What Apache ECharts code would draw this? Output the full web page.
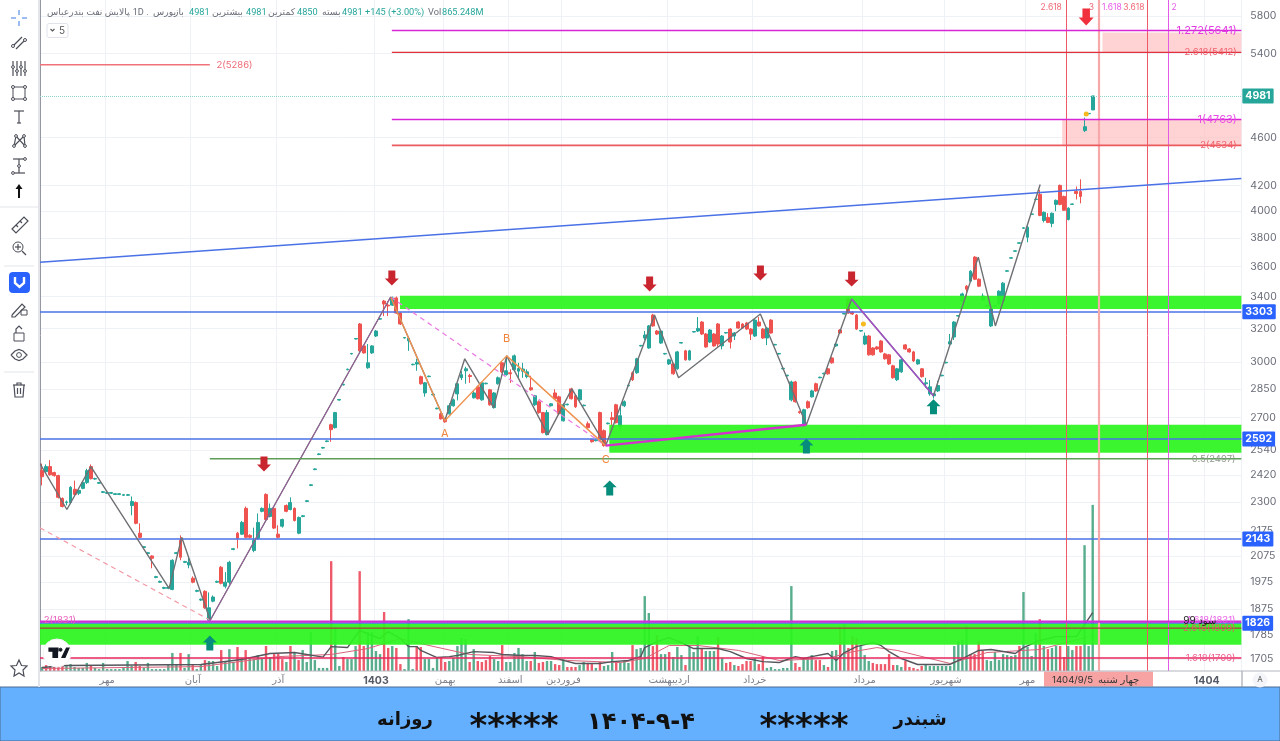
<!DOCTYPE html>
<html><head><meta charset="utf-8">
<style>html,body{margin:0;padding:0;background:#fff}#c{width:1280px;height:741px}</style>
<script src="https://cdn.jsdelivr.net/npm/echarts@6/dist/echarts.min.js"></script>
</head><body><div id="c"></div>
<script>
// ---------- data ----------
// candle rows: [open, close, low, high]; a single number is a flat limit-day dash
const candleRows = [
[2441,2413,2373,2474],[2436,2460,2430,2470],[2460,2422,2418,2490],[2432,2418,2413,2436],[2418,2320,2315,2422],[2315,2280,2276,2320],[2297,2300,2285,2306],[2297,2365,2290,2370],[2356,2333,2325,2395],[2338,2351,2330,2356],
[2360,2386,2356,2390],[2386,2441,2380,2450],[2460,2404,2400,2470],2402,2383,2342,2338,2338,2333,2333,
2329,2329,[2284,2302,2242,2324],[2297,2208,2204,2302],[2167,2150,2146,2208],2109,2085,[2075,2066,2027,2078],1992,1974,
1951,1951,[1947,2058,1944,2062],2085,[2138,2070,2058,2158],2050,[2040,2050,2027,2075],[1989,1974,1970,1996],1940,1908,
[1940,1880,1876,1944],[1836,1880,1830,1936],[1904,1919,1900,1925],1974,[2031,1970,1966,2036],[1959,1974,1951,2012],[1974,2050,1966,2056],2101,[2167,2146,2105,2172],[2163,2212,2160,2218],
[2272,2150,2146,2280],[2158,2150,2146,2163],[2097,2138,2090,2190],[2146,2212,2140,2250],[2259,2272,2255,2276],[2333,2224,2220,2338],[2237,2272,2233,2293],[2272,2188,2184,2276],[2163,2150,2146,2200],[2196,2224,2190,2228],
[2284,2259,2255,2289],[2267,2297,2263,2320],[2272,2220,2216,2276],[2167,2233,2163,2237],2237,2302,2373,2446,2517,2548,
2580,[2664,2639,2579,2669],[2649,2726,2645,2730],2792,2874,2958,3048,3136,[3227,3066,3060,3233],[3095,3054,3050,3100],
[2969,2997,2963,3106],[3054,3095,3048,3100],[3154,3184,3148,3190],3257,[3371,3352,3276,3378],[3345,3340,3276,3371],[3345,3391,3340,3400],[3391,3295,3290,3400],[3295,3227,3221,3300],3142,
[3125,3140,3066,3142],2986,[2990,3000,2952,3020],[2919,2880,2875,2925],[2830,2885,2810,2890],2919,2820,2746,[2720,2694,2690,2725],[2694,2679,2674,2699],
[2720,2762,2715,2775],[2762,2793,2757,2800],[2825,2880,2790,2885],[2913,2930,2900,2950],[2952,2963,2880,2975],[2925,2920,2885,2935],[2804,2830,2800,2840],[2863,2799,2795,2870],[2793,2885,2788,2890],2880,
[2847,2767,2762,2852],[2752,2830,2747,2835],[2880,2913,2875,2920],[2997,2946,2940,3005],[2930,2952,2925,3037],[2941,2935,2885,2960],[2958,3037,2950,3045],[2950,2965,2913,2997],[2950,2962,2913,2997],[2919,2946,2910,2960],
[2858,2847,2842,2924],[2767,2815,2760,2820],[2783,2726,2720,2790],[2726,2624,2620,2730],[2614,2726,2610,2740],[2762,2772,2758,2776],[2830,2799,2795,2850],[2809,2720,2715,2815],[2684,2767,2680,2775],2767,
[2852,2799,2795,2858],[2815,2757,2750,2820],[2793,2847,2788,2852],2762,[2669,2649,2645,2680],[2589,2579,2575,2593],2584,[2726,2589,2584,2731],[2634,2560,2555,2640],2669,
[2700,2690,2659,2730],[2767,2674,2670,2772],[2654,2710,2640,2760],[2762,2783,2755,2790],2869,[2941,2902,2895,2948],[2941,3020,2935,3026],3095,[3142,3160,3130,3184],[3083,3215,3078,3221],
[3282,3215,3210,3290],[3184,3166,3160,3190],[3112,3184,3107,3190],3048,[2991,3014,2985,3020],[2991,2935,2930,2997],[2963,3060,2958,3066],3112,[3066,3014,3010,3072],[3014,3066,3010,3072],
3178,[3184,3200,3178,3270],[3239,3166,3160,3245],[3166,3089,3084,3172],[3118,3190,3112,3196],[3166,3095,3090,3172],[3227,3106,3090,3233],[3095,3154,3075,3160],3172,[3196,3118,3080,3202],
[3154,3172,3130,3178],[3239,3202,3198,3245],[3227,3202,3198,3232],[3233,3196,3190,3240],[3196,3166,3130,3202],[3154,3251,3148,3257],[3239,3215,3210,3270],[3196,3142,3137,3202],[3142,3202,3100,3208],[3251,3172,3168,3257],
3101,3048,2963,2924,[2793,2890,2785,2897],[2890,2783,2778,2896],[2731,2726,2720,2736],[2659,2741,2654,2746],[2783,2752,2746,2790],[2809,2841,2805,2847],
[2880,2841,2836,2886],2913,2935,[2963,2935,2930,2968],[3025,2997,2992,3030],[3095,3106,3090,3112],[3190,3172,3167,3195],3289,[3384,3295,3290,3392],[3301,3289,3284,3307],
[3282,3196,3190,3288],3184,[3106,3154,3100,3175],[3154,3043,3038,3160],[3083,3043,3038,3088],[3089,3077,3072,3094],[3124,3060,3055,3130],[3048,3020,3015,3054],[3043,2991,2985,3048],[2980,2913,2908,2986],
[2902,2963,2895,2968],[2946,3014,2940,3020],[3101,3077,3072,3106],[3077,3060,3055,3083],[3060,3008,3002,3066],[2991,3014,2986,3020],[2963,2919,2914,2968],[2880,2885,2858,2913],[2825,2863,2815,2900],[2815,2825,2800,2830],
[2841,2870,2835,2896],2924,2997,[3106,3120,3106,3166],[3148,3239,3130,3245],3276,[3371,3417,3365,3425],[3468,3448,3391,3475],[3501,3568,3495,3575],[3665,3514,3508,3672],
[3514,3468,3462,3520],[3378,3403,3372,3420],3339,[3215,3320,3208,3330],3339,[3352,3435,3347,3441],[3371,3488,3340,3495],3568,3658,3706,
3763,3872,[3806,3880,3770,3888],3976,4090,[4130,3968,3962,4165],[3930,3991,3915,3998],[3953,3915,3910,3985],[3908,3984,3880,3990],[4052,4083,4000,4090],
[4201,4052,4045,4208],[4114,4007,4002,4120],[3938,4022,3930,4030],4052,[4153,4137,4090,4192],[4153,4114,4060,4250],[4663,4698,4650,4780],4815,[4850,4981,4850,4981]
];
// volume in millions; negative = red (down) bar
const volumeSigned = [
21,-31,-26,-21,-26,-26,31,36,21,16,16,42,-26,16,10,42,10,10,10,10,16,52,26,-47,-26,16,42,10,10,10,10,31,
94,31,-94,16,88,-31,10,36,-57,52,52,26,-109,47,114,47,-125,68,-109,68,62,83,68,-130,73,-88,-88,-62,
47,-130,94,-57,109,47,203,57,16,16,16,-572,229,26,-73,62,62,130,-520,-130,203,203,104,88,-307,-120,130,-120,-36,10,270,10,-130,-125,62,62,16,73,-73,-47,52,68,130,172,166,-47,114,-52,-47,
-57,-78,62,52,-135,47,47,94,120,88,52,-52,99,-42,-47,52,52,-36,-31,62,-21,-21,-21,31,47,-42,-36,16,-47,26,31,99,-47,42,52,42,-135,114,120,390,302,-130,-187,88,88,-99,73,125,83,-31,125,99,182,-120,104,104,104,-177,68,-42,-47,31,-26,-36,-52,-52,68,-36,-78,16,21,10,10,16,16,
442,-42,-21,62,68,83,-57,-57,31,-21,104,109,-229,244,-120,-182,-172,130,83,52,-42,-36,-36,-36,-88,-31,31,21,-52,-21,-16,-10,-26,31,26,26,26,26,26,26,130,156,161,234,-88,-88,-156,-104,57,52,99,57,88,83,78,83,-130,411,125,78,198,-270,130,-114,120,130,-130,-73,130,109,-130,-130,655,130,865
];
const volumeFast = [[0,18],[6,29],[39,34],[49,60],[56,91],[62,96],[69,72],[71,127],[75,122],[78,211],[81,185],[83,169],[85,205],[88,169],[90,127],[92,127],[93,107],[97,70],[100,75],[102,81],[106,101],[111,96],[113,86],[118,81],[121,81],[125,75],[128,55],[131,39],[137,39],[140,49],[144,55],[147,75],[148,122],[151,153],[154,174],[157,148],[160,117],[166,117],[169,101],[173,65],[177,49],[181,44],[183,60],[185,75],[187,65],[189,75],[193,91],[195,55],[197,96],[200,127],[204,148],[206,133],[208,101],[211,65],[215,34],[223,34],[227,75],[230,107],[233,112],[239,91],[241,122],[245,159],[249,179],[254,179],[258,304]];
const volumeSlow = [[0,13],[39,23],[58,75],[71,86],[80,117],[88,169],[95,133],[105,86],[117,75],[129,55],[142,44],[148,65],[154,133],[161,133],[171,107],[181,55],[193,65],[198,96],[205,122],[210,107],[223,39],[232,96],[245,112],[257,179]];

const axisSlots = 295;
const timeTicks = {16:'مهر',37:'آبان',58:'آذر',82:'1403',99:'بهمن',115:'اسفند',128:'فروردین',154:'اردیبهشت',175:'خرداد',202:'مرداد',222:'شهریور',242:'مهر',286:'1404'};
const priceTicks = [5800,5400,4600,4200,4000,3800,3600,3400,3200,3000,2850,2700,2540,2420,2300,2175,2075,1975,1875,1785,1705];

// drawn overlays, as [bar position, price]
const zigzag = [[0,2474],[6.6,2267],[12.5,2460],[31.7,1951],[34.8,2150],[41.8,1836],[86.1,3397],[99.4,2684],[104.3,3020],[111.4,2752],[114.6,3037],[124.7,2614],[130.6,2852],[138.9,2560],[150.9,3282],[156.8,2913],[176.9,3289],[188.2,2664],[199.3,3384],[219.4,2815],[230.4,3665],[234.6,3215],[245.6,4209]];
const abcWave = [[86.1,3397],[99.4,2684],[114.6,3037],[138.9,2560]];
const purpleLegA = [[41.8,1836],[86.1,3397]];
const purpleLegB = [[199.3,3384],[219.4,2815]];
const magentaBase = [[138.9,2560],[188.2,2664]];
const dashSalmon = [[0,2189],[41.8,1836]];
const dashMagenta = [[86.1,3397],[138.9,2560]];
const channelTop = [[0,3630],[295,4257]];
const levels = [
 {from:86.4,to:295,price:5641,color:'#d626d6',width:1.4},
 {from:86.4,to:295,price:5412,color:'#e0313c',width:1.2},
 {from:0,to:41.7,price:5286,color:'#f0727a',width:1.6},
 {from:86.4,to:295,price:4763,color:'#d626d6',width:1.4},
 {from:86.4,to:295,price:4534,color:'#ec5a60',width:1.6},
 {from:41.7,to:295,price:2497,color:'#5f9e58',width:1.6},
 {from:0,to:295,price:1831,color:'#cf2fd9',width:2.2},
 {from:0,to:295,price:1809,color:'#a8403a',width:1.3},
 {from:0,to:295,price:1709,color:'#e8265e',width:1.4}
];
const priceTags = [{price:4981,color:'#26a69a',line:'#8fd4cc',type:'dotted'},{price:3303,color:'#2962ff',line:'#4a72e6'},{price:2592,color:'#2962ff',line:'#4a72e6'},{price:2143,color:'#2962ff',line:'#4a72e6'},{price:1826,color:'#2962ff',line:'#4a72e6'}];
const timeMarks = [{at:251.8,color:'#ee5a68',width:1},{at:259.9,color:'#f7a8a8',width:2.2},{at:272.1,color:'#ee5a68',width:1},{at:277.1,color:'#e45ae8',width:1}];
const greenZones = [[88.4,3405,295,3320],[139.8,2664,295,2526],[0,1826,295,1752]];
const pinkZones = [[251,4758,295,4537],[260.9,5620,295,5416]];
const downArrows = [[86.4,3522],[55,2472],[149.7,3482],[176.9,3556],[199.3,3515]];
const topArrow = [[256.9,5789]];
const upArrows = [[41.7,1758],[139.9,2362],[188.2,2558],[219.4,2756]];
const yellowDots = [[202.2,3227],[256.9,4813]];
const levelTexts = [
 {at:294,price:5641,text:'1.272(5641)',color:'#e23ce2',size:11,side:'left'},
 {at:294,price:5412,text:'2.618(5412)',color:'#ef5f6c',size:9.5,side:'left'},
 {at:43.2,price:5286,text:'2(5286)',color:'#ef6a76',size:9.5,side:'right'},
 {at:294,price:4763,text:'1(4763)',color:'#ea4de6',size:11,side:'left'},
 {at:294,price:4534,text:'2(4534)',color:'#ef5f6c',size:9.5,side:'left'},
 {at:293.7,price:2497,text:'0.5(2497)',color:'#8f9a8a',size:9.5,side:'left'},
 {at:293.7,price:1709,text:'1.618(1709)',color:'#ee5a8a',size:9.5,side:'left'},
 {at:293.7,price:1807,text:'2.618(1809)',color:'#e06060',size:9.5,side:'left'},
 {at:293.7,price:1835,text:'1.618(1831)',color:'#e85ae8',size:9.5,side:'left'},
 {at:289,price:1835,text:'سود 99',color:'#222',size:10,side:'left'},
 {at:0.8,price:1838,text:'2(1831)',color:'#e85ab8',size:9.5,side:'right'},
 {at:248.3,price:5895,text:'2.618',color:'#ef6a76',size:8.5,side:'inside'},
 {at:258.2,price:5895,text:'3',color:'#ef6a76',size:8.5,side:'inside'},
 {at:263.2,price:5895,text:'1.618',color:'#e85ae8',size:8.5,side:'inside'},
 {at:268.6,price:5895,text:'3.618',color:'#ef6a76',size:8.5,side:'inside'},
 {at:278.5,price:5895,text:'2',color:'#e85ae8',size:8.5,side:'inside'},
 {at:99.4,price:2617,text:'A',color:'#f0843c',size:11,side:'inside'},
 {at:114.6,price:3136,text:'B',color:'#f0843c',size:11,side:'inside'},
 {at:138.9,price:2491,text:'C',color:'#f0843c',size:11,side:'inside'}
];
// ---------- chart ----------
const FONT = 'Inter, "DejaVu Sans", sans-serif';
const candles = candleRows.map(r => Array.isArray(r) ? r : [r, r + 3, r - 3, r + 6]);
const categories = Array.from({length: axisSlots}, (_, i) => timeTicks[i] || '');
const ARROW = 'path://M3 0 L9 0 L9 7 L12 7 L6 13 L0 7 L3 7 Z';
const lineSeries = (data, color, width, dash, z) => ({type:'line', xAxisIndex:1, yAxisIndex:0, data, symbol:'none', silent:true, z:z||6, lineStyle:{color, width, type:dash||'solid'}});
const arrowSeries = (data, color, rot, size) => ({type:'scatter', xAxisIndex:1, yAxisIndex:0, data, symbol:ARROW, symbolSize:size||[14,15], symbolRotate:rot, silent:true, z:7, itemStyle:{color, opacity:1}});
const zoneArea = (rows, color, z) => ({type:'line', xAxisIndex:1, yAxisIndex:0, data:[], symbol:'none', silent:true,
  markArea:{silent:true, z, itemStyle:{color, borderWidth:0}, data:rows.map(r => [{coord:[r[0],r[1]]},{coord:[r[2],r[3]]}])}});

const series = [
 {type:'bar', xAxisIndex:0, yAxisIndex:1, barWidth:2.4, silent:true, z:2,
  data:volumeSigned.map((v,i)=>({value:[i,Math.abs(v)], itemStyle:{color: v<0 ? '#ef5a6a' : '#57ad8c'}}))},
 {type:'candlestick', xAxisIndex:0, yAxisIndex:0, data:candles, barWidth:3.4, silent:true, z:3,
  itemStyle:{color:'#26a69a', color0:'#ef5350', borderColor:'#26a69a', borderColor0:'#ef5350', borderWidth:1}},
 {type:'line', xAxisIndex:0, yAxisIndex:1, data:volumeSlow, symbol:'none', silent:true, z:3, lineStyle:{color:'#d9637a', width:1}},
 {type:'line', xAxisIndex:0, yAxisIndex:1, data:volumeFast, symbol:'none', silent:true, z:3, lineStyle:{color:'#55565c', width:1.4}},
 zoneArea(pinkZones, 'rgba(255,190,190,0.68)', 1),
 zoneArea(greenZones, 'rgba(44,245,30,0.93)', 4),
 lineSeries(channelTop,'#4a72e6',1.5),
 lineSeries(dashSalmon,'#f29aa5',1.2,[5,4]),
 lineSeries(dashMagenta,'#ea7ee0',1.3,[5,4]),
 lineSeries(zigzag,'#6f7074',1.4),
 lineSeries(abcWave,'#f0924f',1.4),
 lineSeries(purpleLegA,'#9a5c9c',1),
 lineSeries(purpleLegB,'#a24fc8',1.3),
 lineSeries(magentaBase,'#d52fd0',2.4),
 ...levels.map(l => lineSeries([[l.from,l.price],[l.to,l.price]], l.color, l.width)),
 {type:'line', xAxisIndex:1, yAxisIndex:0, data:[], symbol:'none', silent:true,
  markLine:{silent:true, z:6, symbol:'none', animation:false, precision:0,
   data:priceTags.map(t => ({yAxis:t.price, lineStyle:{color:t.line, width:t.type?1:1.6, type:t.type||'solid'},
     label:{show:true, position:'end', distance:1, formatter:String(t.price), color:'#fff', fontFamily:FONT, fontSize:10.5, fontWeight:'bold', backgroundColor:t.color, padding:[2,3,2,3], borderRadius:1, align:'left'}}))
    .concat(timeMarks.map(m => ({xAxis:m.at, lineStyle:{color:m.color, width:m.width, type:'solid'}, label:{show:false}})))}},
 arrowSeries(downArrows,'#c9252f',0),
 arrowSeries(topArrow,'#f0303c',0,[15,17]),
 arrowSeries(upArrows,'#078d7c',180),
 {type:'scatter', xAxisIndex:1, yAxisIndex:0, data:yellowDots, symbolSize:5, silent:true, z:7, itemStyle:{color:'#f6b91e', opacity:1}},
 {type:'scatter', xAxisIndex:1, yAxisIndex:0, silent:true, z:8, symbolSize:1, itemStyle:{color:'rgba(0,0,0,0)', opacity:1},
  data:levelTexts.map(t => ({value:[t.at,t.price], label:{show:true, formatter:t.text, position:t.side, distance:0, color:t.color, fontSize:t.size, fontFamily:FONT}}))}
];

// ---------- frame furniture: toolbar, header, footer ----------
const G = [];
const txt = (x,y,text,o) => G.push({type:'text', x, y, silent:true, z:50, style:Object.assign({text, fill:'#6a6d78', font:'10.5px '+FONT, textVerticalAlign:'middle', textAlign:'left'},o||{})});
const seg = (pts,color,w) => G.push({type:'polyline', silent:true, z:50, shape:{points:pts}, style:{stroke:color||'#4b4e58', lineWidth:w||1.2, fill:null}});
const box = (x,y,w,h,fill,stroke,r) => G.push({type:'rect', silent:true, z:49, shape:{x,y,width:w,height:h,r:r||0}, style:{fill:fill||'none', stroke:stroke||null, lineWidth:1}});
const dot = (x,y,r,fill,stroke) => G.push({type:'circle', silent:true, z:50, shape:{cx:x,cy:y,r}, style:{fill:fill||'#fff', stroke:stroke||'#4b4e58', lineWidth:1}});
const poly = (pts,fill,stroke) => G.push({type:'polygon', silent:true, z:50, shape:{points:pts}, style:{fill:fill||'none', stroke:stroke||null, lineWidth:1.2}});

// left toolbar
box(0,0,39,687,'#ffffff'); seg([[39,0],[39,687]],'#e3e5ea',2);
const BL='#7aa7ee';
seg([[19,10],[19,15]],BL,1.5);seg([[19,21],[19,26]],BL,1.5);seg([[11,18],[16,18]],BL,1.5);seg([[22,18],[27,18]],BL,1.5);
seg([[13,46],[22,37]]);seg([[16,49],[25,40]]);dot(13,46,1.5);dot(25,40,1.5);
[13,17,21,25].forEach((x,i)=>{seg([[x,61],[x,76]]);dot(x,i%2?71:67,1.4);});
box(13,87,12,12,null,'#4b4e58');[[13,87],[25,87],[13,99],[25,99]].forEach(p=>dot(p[0],p[1],1.5));
seg([[14,111],[24,111]]);seg([[19,111],[19,123]]);seg([[17,123],[21,123]]);
seg([[14,146],[16,136],[25,146],[24,136],[14,146]]);[[14,146],[16,136],[25,146],[24,136]].forEach(p=>dot(p[0],p[1],1.4));
seg([[13,159],[25,159]]);seg([[19,159],[19,173]]);seg([[13,173],[25,173]]);dot(25,159,1.4);dot(13,173,1.4);dot(19,166,1.4);
seg([[19,187],[19,198]],'#111',2);poly([[15.5,189],[19,184],[22.5,189]],'#111');
seg([[0,207],[38,207]],'#e3e5ea',1);
poly([[12,229],[24,217],[28,221],[16,233]],null,'#4b4e58');seg([[16,225],[18,227]]);seg([[20,221],[22,223]]);
dot(18,247,5,'none');seg([[22,251],[26,255]]);seg([[15,247],[21,247]]);seg([[18,244],[18,250]]);
seg([[4,266],[34,266]],'#e3e5ea',1);
box(9,272,21,21,'#2962ff',null,4);seg([[15,277],[15,283],[19.5,287],[24,283],[24,277]],'#fff',2.4);
seg([[12,315],[22,304],[25,307],[15,317],[12,317],[12,315]]);box(21,310,6,5,null,'#4b4e58');
box(14,333,10,8,null,'#4b4e58');seg([[16,333],[16,329],[19,326],[22,329]]);
seg([[11,355],[15,351],[19,349.5],[23,351],[27,355],[23,359],[19,360.5],[15,359],[11,355]]);dot(19,355,2.4,'none');
seg([[4,372],[34,372]],'#e3e5ea',1);
seg([[13,385],[25,385]]);seg([[17,385],[17,383],[21,383],[21,385]]);seg([[14,385],[15,397],[23,397],[24,385]]);seg([[17.5,388],[17.5,394]]);seg([[20.5,388],[20.5,394]]);
poly([[19,660],[21.5,665.5],[27,666],[23,670],[24,676],[19,673],[14,676],[15,670],[11,666],[16.5,665.5]],null,'#4b4e58');

// header legend
const HF='9.2px Roboto, "DejaVu Sans", sans-serif';
[[47,'پالایش نفت بندرعباس','#6a6d78'],[128,'. 1D .','#6a6d78'],[153,'بورس','#6a6d78'],[174,'باز','#6a6d78'],[189,'4981','#26a69a'],[212,'بیشترین','#6a6d78'],[246,'4981','#26a69a'],[268,'کمترین','#6a6d78'],[297,'4850','#26a69a'],[322,'بسته','#6a6d78'],[342,'4981','#26a69a'],[365,'+145 (+3.00%)','#26a69a'],[428,'Vol','#6a6d78'],[442,'865.248M','#26a69a']]
 .forEach(p => txt(p[0],12.5,p[1],{fill:p[2],font:HF}));
box(47,23.5,21,14,'#ffffff','#e0e3eb',2);seg([[50.5,29],[52.5,31],[54.5,29]],'#555',1.1);txt(59,31,'5',{fill:'#555',font:'10px '+FONT});

// TradingView mark
dot(57,653,14,'#fff','#f2f3f5');
poly([[49,648],[58,648],[58,651.2],[57.5,651.2],[57.5,657.3],[53,657.3],[53,651.2],[49,651.2]],'#131722','#131722');
dot(60.5,649.7,1.5,'#131722','#131722');
poly([[62,657.3],[66.5,648],[69,648],[65,657.3]],'#131722','#131722');

// axis furniture
seg([[1242,671],[1242,687]],'#9598a1',1);seg([[40,671],[1280,671]],'#b2b5be',1);
box(1044,671.5,109,15,'#f8a3a3');
txt(1052,680,'1404/9/5',{fill:'#333',font:'9.6px '+FONT});txt(1098,680,'چهار شنبه',{fill:'#333',font:'10px '+FONT});
dot(1260,680,7,'#f4f5f8','#f4f5f8');txt(1260,680,'A',{fill:'#555',font:'8px '+FONT,textAlign:'center'});

// footer banner
box(0,687,1280,54,'#65afff','#4a6c92');
const BAN='bold 18px "DejaVu Sans", sans-serif';
txt(920,720,'شبندر',{fill:'#111',font:BAN,textAlign:'center'});
txt(804,728,'*****',{fill:'#111',font:'bold 34px "DejaVu Sans"',textAlign:'center'});
txt(641,723,'۱۴۰۴-۹-۴',{fill:'#111',font:'bold 24px "DejaVu Sans", sans-serif',textAlign:'center'});
txt(514,728,'*****',{fill:'#111',font:'bold 34px "DejaVu Sans"',textAlign:'center'});
txt(405,720,'روزانه',{fill:'#111',font:BAN,textAlign:'center'});

const chart = echarts.init(document.getElementById('c'), null, {renderer:'canvas'});
chart.setOption({
 animation:false, backgroundColor:'#fff',
 grid:{left:40, right:38, top:0, bottom:70, containLabel:false},
 xAxis:[
  {type:'category', data:categories, position:'bottom',
   axisLine:{show:false}, axisTick:{show:false},
   splitLine:{show:true, interval:(i)=>!!timeTicks[i], lineStyle:{color:'#eef1f6', width:1}},
   axisLabel:{interval:0, margin:4, hideOverlap:false, fontFamily:FONT, fontSize:10, color:'#7f828c',
    formatter:v => /^\d+$/.test(v) ? '{b|'+v+'}' : v, rich:{b:{fontFamily:FONT, fontSize:10.5, fontWeight:'bold', color:'#555a66'}}}},
  {type:'value', min:0, max:axisSlots, show:false, splitLine:{show:false}}
 ],
 yAxis:[
  {type:'log', logBase:10, min:1667, max:5979, position:'right',
   axisLine:{show:true, lineStyle:{color:'#9598a1', width:1}},
   axisTick:{show:false, customValues:priceTicks},
   splitLine:{show:true, lineStyle:{color:'#eef1f6', width:1}},
   axisLabel:{customValues:priceTicks, margin:9, fontFamily:FONT, fontSize:10.5, color:'#6a6d78', formatter:v=>String(Math.round(v))}},
  {type:'value', min:0, max:3494, show:false, splitLine:{show:false}}
 ],
 series, graphic:{elements:G}
});
</script></body></html>
